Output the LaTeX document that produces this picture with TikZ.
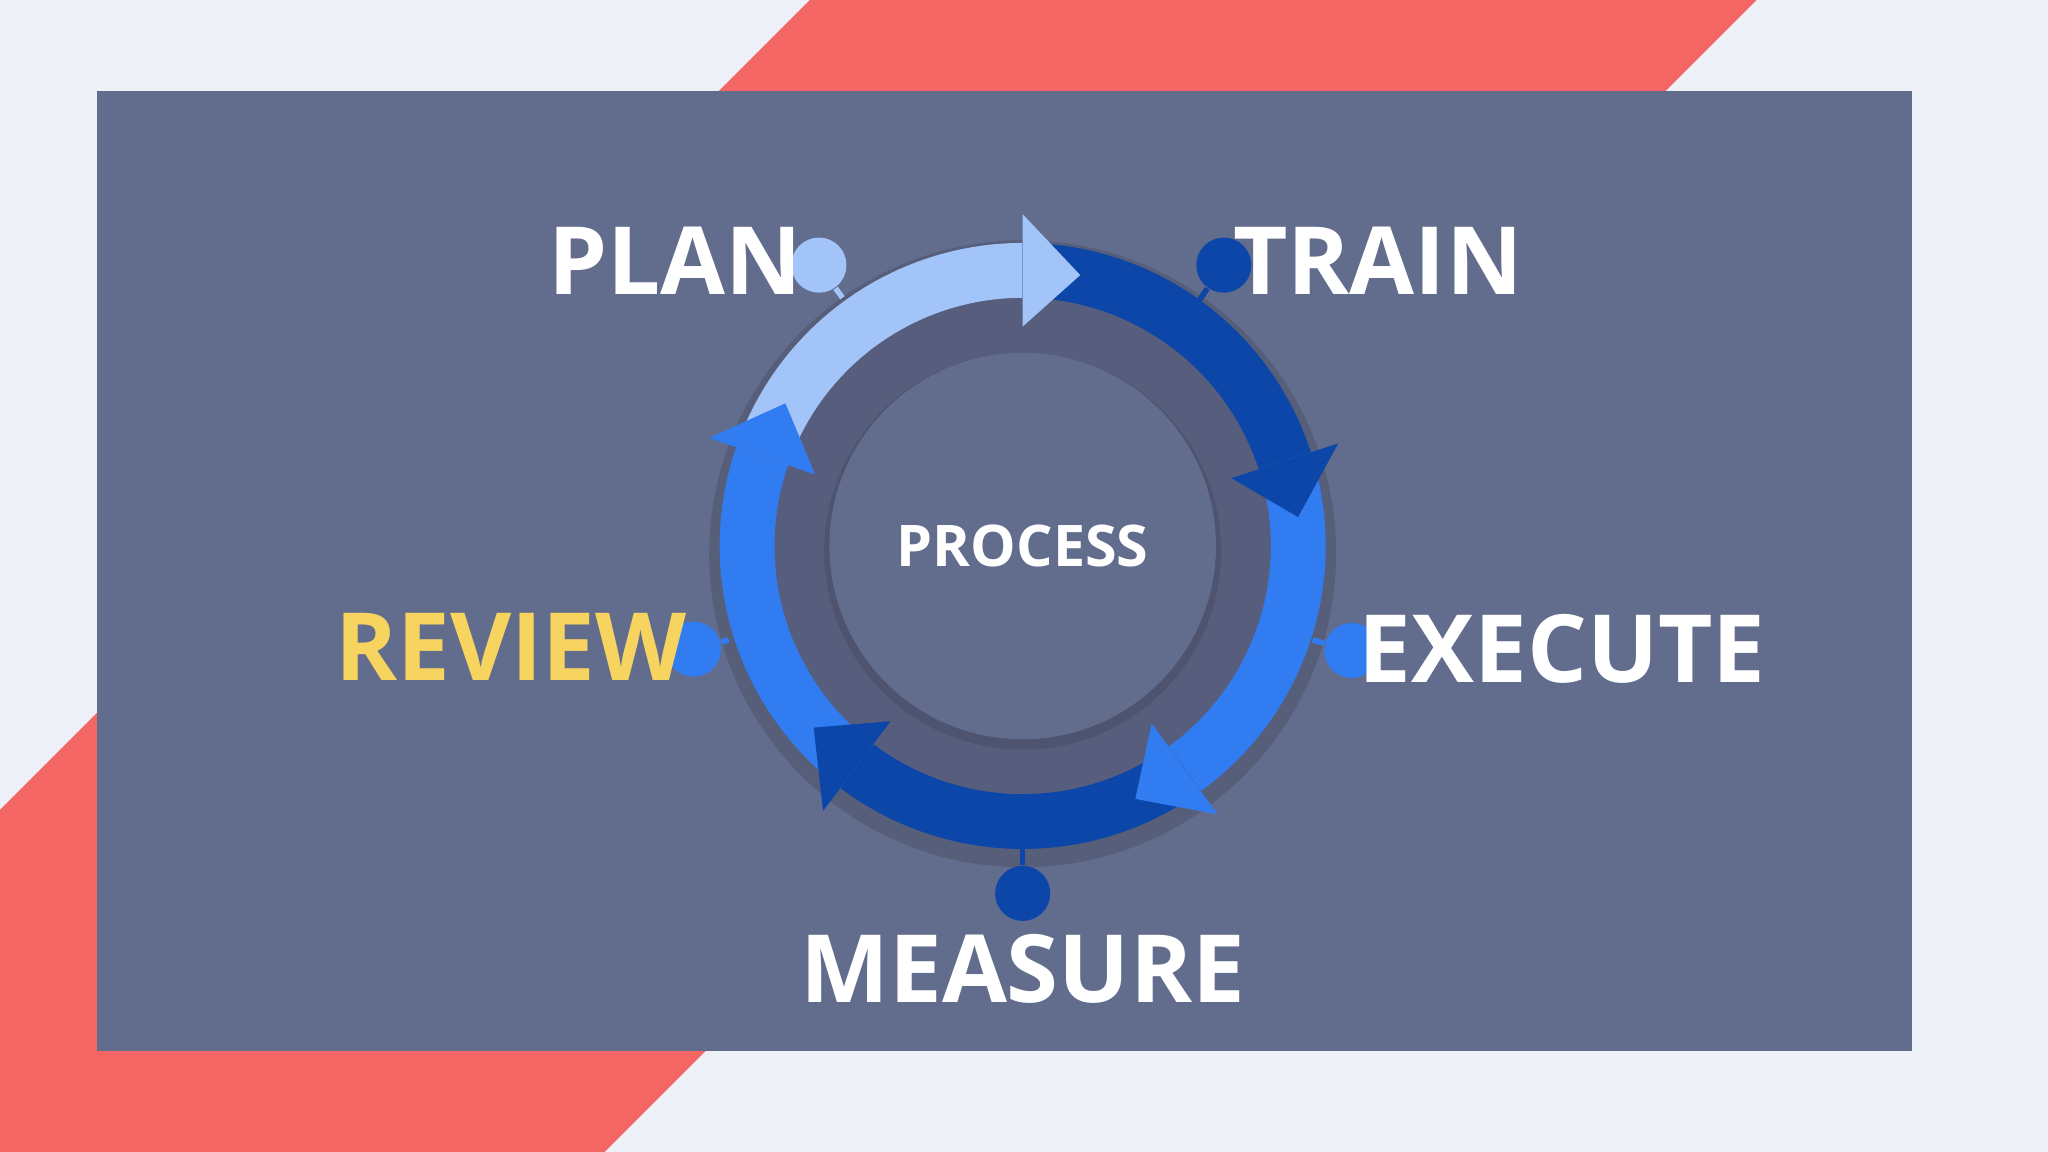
\documentclass[tikz,border=0pt]{standalone}
\usepackage{fontspec}
\setmainfont{Open Sans}
\begin{document}
\begin{tikzpicture}[x=0.01cm,y=-0.01cm]
\definecolor{bg}{HTML}{EEF0F7}
\definecolor{stripe}{HTML}{F46664}
\definecolor{panel}{HTML}{626C8C}
\definecolor{band}{HTML}{575E7D}
\definecolor{lightb}{HTML}{A2C4F8}
\definecolor{darkb}{HTML}{0B46A8}
\definecolor{medb}{HTML}{317CF1}
\definecolor{yel}{HTML}{F7D460}
\tikzset{lbl/.style={font=\bfseries\fontsize{20.5}{24}\selectfont,text=white,inner sep=0pt},
 dotc/.style={circle,inner sep=0pt,minimum size=12}}
\useasboundingbox (0,0) rectangle (1568,882);
\fill[bg] (0,0) rectangle (1568,882);
\fill[stripe] (620,0) -- (1345,0) -- (463,882) -- (0,882) -- (0,620) -- cycle;
\fill[panel] (74,70) rectangle (1464,805);
\begin{scope}[shift={(783,418)},y=0.01cm]
\fill[black,opacity=0.12] (0,-6) circle[radius=240];
\fill[band] (0,0) circle[radius=190];
\fill[black,opacity=0.1] (0,-4) circle[radius=152];
\fill[panel] (0,0) circle[radius=148];
% bodies
\foreach \s/\e/\c in {161/90/lightb,90/18/darkb,18/-54/medb,-54/-127/darkb,-127/-199/medb}{
 \fill[\c] (\s:232) arc[start angle=\s,end angle=\e,radius=232] -- (\e:190) arc[start angle=\e,end angle=\s,radius=190] -- cycle;}
% heads
\foreach \e/\c in {90/lightb,18/darkb,-54/medb,-127/darkb,-199/medb}{
 \fill[\c] (\e:254) -- ({\e-12}:212) -- (\e:168) -- cycle;}
\node[font=\bfseries\fontsize{12.5}{14}\selectfont,text=white] (proc) at (0,0) {PROCESS};
\end{scope}
% leaders
\node[dotc,fill=lightb] (d1) at (627,203) {}; \coordinate (e1) at (645,228);
\node[dotc,fill=darkb] (d2) at (937,203) {}; \coordinate (e2) at (918,230);
\node[dotc,fill=medb] (d3) at (1035,498) {}; \coordinate (e3) at (1005,490);
\node[dotc,fill=darkb] (d4) at (783,684) {}; \coordinate (e4) at (783,648);
\node[dotc,fill=medb] (d5) at (531,497) {}; \coordinate (e5) at (558,490);
\draw[lightb,line width=1.2pt] (d1) -- (e1);
\draw[darkb,line width=1.2pt] (d2) -- (e2);
\draw[medb,line width=1.2pt] (d3) -- (e3);
\draw[darkb,line width=1.2pt] (d4) -- (e4);
\draw[medb,line width=1.2pt] (d5) -- (e5);
\node[lbl] (plan) at (517,200) {PLAN};
\node[lbl] (train) at (1055,200) {TRAIN};
\node[lbl] (exec) at (1196,497) {EXECUTE};
\node[lbl,text=yel] (rev) at (391,495) {REVIEW};
\node[lbl] (meas) at (783,742) {MEASURE};
\end{tikzpicture}
\end{document}
